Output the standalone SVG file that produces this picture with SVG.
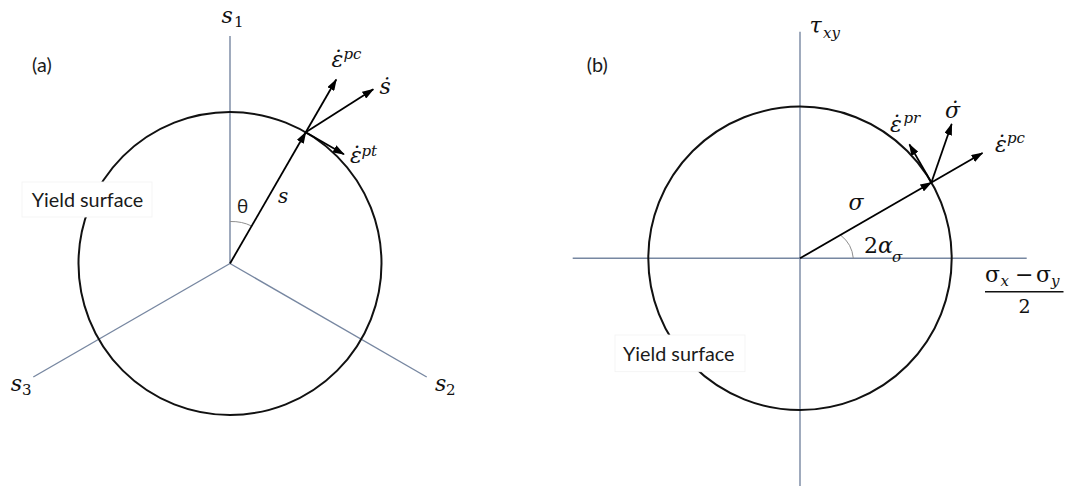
<svg xmlns="http://www.w3.org/2000/svg" width="1072" height="487" viewBox="0 0 1072 487">
<style>
.axis{stroke:#7787a1;stroke-width:1.4;fill:none}
.yield{stroke:#111;stroke-width:2;fill:none}
.vec{stroke:#000;stroke-width:1.8;fill:none;marker-end:url(#ah)}
.ang{stroke:#8f8f8f;stroke-width:1;fill:none}
.box{fill:#fff;stroke:#f2f2f2;stroke-width:0.8}
.lbl{font-family:Lato,"Liberation Sans",sans-serif;font-size:19.8px;fill:#1a1a1a}
.m{font-family:"DejaVu Serif","Liberation Serif",serif;font-style:italic;font-size:22px;fill:#111}
.up{font-style:normal}
.sb{font-size:15px}
.th{font-family:"Open Sans","DejaVu Sans",sans-serif;font-size:19px;fill:#1a1a1a}
</style>
<defs>
<marker id="ah" markerUnits="userSpaceOnUse" markerWidth="12" markerHeight="8" refX="11" refY="4" orient="auto">
<path d="M0,0 L12,4 L0,8 z" fill="#000"/>
</marker>
</defs>
<rect width="1072" height="487" fill="#fff"/>

<!-- Panel (a) -->
<g id="axes-a">
<line class="axis" x1="230" y1="36" x2="230" y2="263.5"/>
<line class="axis" x1="230" y1="263.5" x2="426.7" y2="377"/>
<line class="axis" x1="230" y1="263.5" x2="33.3" y2="377"/>
</g>
<g id="yield-a">
<circle class="yield" cx="230" cy="263.5" r="151.5"/>
<rect class="box" x="22" y="182" width="130" height="35"/>
<text class="lbl" x="31.7" y="206.7">Yield surface</text>
</g>
<g id="theta-a">
<path class="ang" d="M230,221.5 Q242,221.2 251.5,226"/>
<text class="th" x="237" y="213">θ</text>
</g>
<g id="label-a"><text class="lbl" x="32" y="72">(a)</text></g>
<g id="labels-a">
<text class="m" x="221.5" y="22.5">s<tspan class="up sb" x="234" y="26.5">1</tspan></text>
<text class="m" x="435" y="391">s<tspan class="up sb" x="446" y="395">2</tspan></text>
<text class="m" x="10.7" y="391">s<tspan class="up sb" x="22" y="395">3</tspan></text>
<text class="m" x="278" y="203" style="font-size:20px">s</text>
<text class="m" x="331.5" y="66.7">ε̇<tspan class="sb" x="343.5" y="59">pc</tspan></text>
<text class="m" x="379.5" y="94">ṡ</text>
<text class="m" x="350" y="163.3">ε̇<tspan class="sb" x="361.5" y="156">pt</tspan></text>
</g>

<!-- Panel (b) -->
<g id="axes-b">
<line class="axis" x1="800" y1="31.7" x2="800" y2="486"/>
<line class="axis" x1="572.7" y1="258.3" x2="1026.7" y2="258.3"/>
</g>
<g id="yield-b">
<circle class="yield" cx="800" cy="258.3" r="151.7"/>
<rect class="box" x="615" y="335" width="130" height="36.7"/>
<text class="lbl" x="623" y="360.5">Yield surface</text>
</g>
<g id="alpha-b">
<path class="ang" d="M841,235.5 Q852,244 853.3,258.3"/>
</g>
<g id="label-b"><text class="lbl" x="586.7" y="72">(b)</text></g>
<g id="labels-b">
<text class="m" x="809.5" y="33.3">τ<tspan class="sb" x="823" y="38">xy</tspan></text>
<text class="m" x="945" y="118">σ̇</text>
<text class="m" x="890" y="131.7">ε̇<tspan class="sb" x="903.5" y="123">pr</tspan></text>
<text class="m" x="995" y="151.7">ε̇<tspan class="sb" x="1007" y="143">pc</tspan></text>
<text class="m" x="848.5" y="210">σ</text>
<text class="m" x="864" y="253.3"><tspan class="up">2</tspan>α<tspan class="sb" x="892" y="262">σ</tspan></text>
<g id="fraction">
<text class="m up" x="985" y="281.7">σ<tspan class="sb" style="font-style:italic" x="1000.5" y="286">x</tspan><tspan x="1015" y="281.7">−</tspan><tspan x="1036" y="281.7">σ</tspan><tspan class="sb" style="font-style:italic" x="1051" y="286">y</tspan></text>
<line x1="985" y1="291.7" x2="1063.5" y2="291.7" stroke="#111" stroke-width="1.4"/>
<text class="m up" x="1018.5" y="313.3" style="font-size:19px">2</text>
</g>
</g>

<g id="connectors">
<line class="vec" x1="230" y1="263.5" x2="305.75" y2="132.3"/>
<line class="vec" x1="305.75" y1="132.3" x2="336.25" y2="79.5"/>
<line class="vec" x1="305.75" y1="132.3" x2="373.3" y2="89.3"/>
<line class="vec" x1="305.75" y1="132.3" x2="343.9" y2="154.3"/>
<line class="vec" x1="800" y1="258.3" x2="931.4" y2="182.45"/>
<line class="vec" x1="931.4" y1="182.45" x2="982.5" y2="152.95"/>
<line class="vec" x1="931.4" y1="182.45" x2="951.7" y2="124"/>
<line class="vec" x1="931.4" y1="182.45" x2="909.4" y2="144.35"/>
</g>
</svg>
